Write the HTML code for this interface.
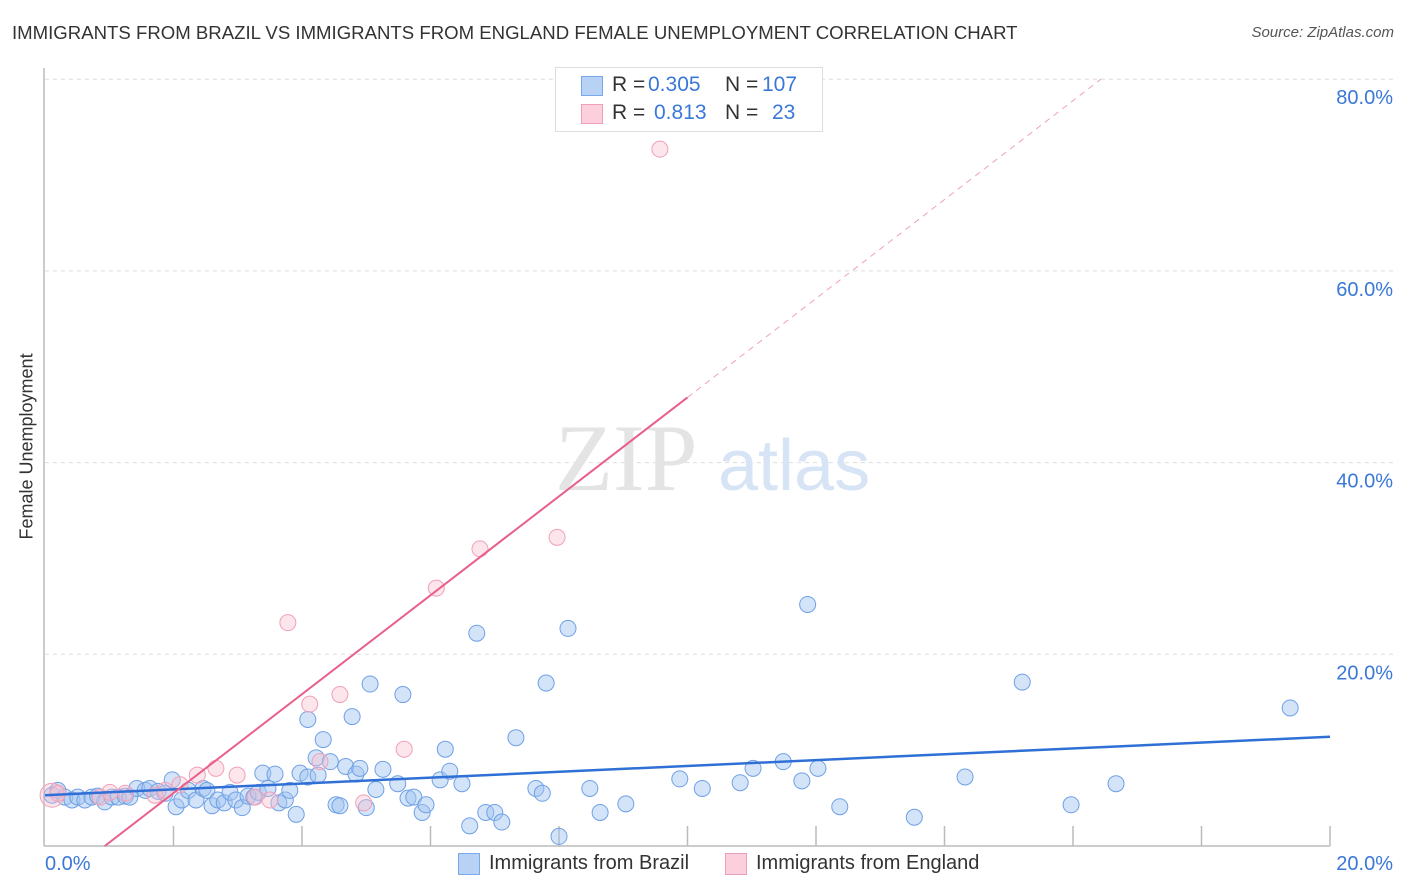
<!DOCTYPE html>
<html><head><meta charset="utf-8"><style>
body{margin:0;background:#fff;font-family:"Liberation Sans",sans-serif;}
#w{position:relative;width:1406px;height:892px;overflow:hidden;}
.t{position:absolute;white-space:nowrap;}
.b{color:#3a78d8}
</style></head><body><div id="w">
<div class="t" style="left:12px;top:22px;font-size:18.6px;color:#333;">IMMIGRANTS FROM BRAZIL VS IMMIGRANTS FROM ENGLAND FEMALE UNEMPLOYMENT CORRELATION CHART</div>
<div class="t" style="right:12px;top:24px;font-size:15px;color:#555;font-style:italic;">Source: ZipAtlas.com</div>
<div class="t" style="left:-58px;top:444px;width:170px;text-align:center;font-size:18px;color:#333;transform:rotate(-90deg);">Female Unemployment</div>
<svg id="s" width="1406" height="892" style="position:absolute;left:0;top:0"></svg>
<div style="position:absolute;left:555px;top:67px;width:266px;height:63px;border:1px solid #ddd;background:#fff;"></div>
<div style="position:absolute;left:581px;top:76px;width:20px;height:18px;background:#b8d2f5;border:1px solid #7aa8e8;"></div>
<div style="position:absolute;left:581px;top:104px;width:20px;height:18px;background:#fbd0dc;border:1px solid #f0a0b8;"></div>
<div style="position:absolute;left:0;top:73px;font-size:21px;color:#333;">
<span class="t" style="left:612px">R =</span><span class="t b" style="left:648px">0.305</span><span class="t" style="left:725px">N =</span><span class="t b" style="left:762px">107</span></div>
<div style="position:absolute;left:0;top:101px;font-size:21px;color:#333;">
<span class="t" style="left:612px">R =</span><span class="t b" style="left:654px">0.813</span><span class="t" style="left:725px">N =</span><span class="t b" style="left:772px">23</span></div>
<div style="position:absolute;left:458px;top:853px;width:20px;height:20px;background:#b8d2f5;border:1px solid #7aa8e8;"></div>
<div class="t" style="left:489px;top:852px;font-size:20px;color:#333;">Immigrants from Brazil</div>
<div style="position:absolute;left:725px;top:853px;width:20px;height:20px;background:#fbd0dc;border:1px solid #f0a0b8;"></div>
<div class="t" style="left:756px;top:852px;font-size:20px;color:#333;">Immigrants from England</div>
</div>
<script>
const yTicks=[20,40,60,80];
const yTickLabels=["20.0%","40.0%","60.0%","80.0%"];
const xTicks=[2,4,6,8,10,12,14,16,18,20];
const brazilX=[0.11,0.2,0.31,0.42,0.51,0.62,0.73,0.82,0.93,1.04,1.14,1.25,1.32,1.43,1.56,1.63,1.76,1.87,1.98,2.04,2.13,2.23,2.35,2.46,2.52,2.6,2.69,2.79,2.88,2.97,3.07,3.16,3.25,3.32,3.39,3.47,3.58,3.64,3.74,3.81,3.91,3.97,4.09,4.09,4.22,4.25,4.33,4.44,4.53,4.59,4.68,4.78,4.84,4.9,5.0,5.06,5.15,5.26,5.49,5.57,5.65,5.74,5.87,5.93,6.15,6.23,6.3,6.49,6.61,6.72,6.86,7.0,7.11,7.33,7.64,7.74,7.8,8.0,8.14,8.48,8.64,9.04,9.88,10.23,10.82,11.02,11.49,11.78,11.87,12.03,12.37,13.53,14.32,15.21,15.97,16.67,19.38];
const brazilY=[5.3,5.8,5.1,4.8,5.1,4.8,5.1,5.2,4.6,5.1,5.1,5.2,5.1,6.0,5.8,6.0,5.7,5.5,6.9,4.1,4.8,5.8,4.8,6.0,5.8,4.2,4.8,4.5,5.6,4.8,4.0,5.2,5.1,5.6,7.6,6.0,7.5,4.5,4.8,5.8,3.3,7.6,13.2,7.2,9.2,7.4,11.1,8.8,4.3,4.2,8.3,13.5,7.5,8.1,4.0,16.9,5.9,8.0,6.5,15.8,5.0,5.1,3.5,4.3,6.9,10.1,7.8,6.5,2.1,22.2,3.5,3.5,2.5,11.3,6.0,5.5,17.0,1.0,22.7,6.0,3.5,4.4,7.0,6.0,6.6,8.1,8.8,6.8,25.2,8.1,4.1,3.0,7.2,17.1,4.3,6.5,14.4];
const englandX=[0.11,0.2,0.86,1.01,1.25,1.71,1.87,2.1,2.37,2.66,2.99,3.27,3.5,3.78,4.12,4.28,4.59,4.96,5.59,6.09,6.77,7.97,9.57];
const englandY=[5.3,5.5,5.1,5.6,5.5,5.3,5.8,6.4,7.4,8.1,7.4,5.1,4.8,23.3,14.8,8.8,15.8,4.5,10.1,26.9,31.0,32.2,72.7];
const brazilTrend=[5.3,11.4];
const englandSlope=5.16, englandX0=0.93;
const X=v=>45+v*64.25, Y=v=>846-v*9.585;
const s=document.getElementById('s'),NS='http://www.w3.org/2000/svg';
function mk(t,a){const e=document.createElementNS(NS,t);for(const k in a)e.setAttribute(k,a[k]);s.appendChild(e);return e;}
yTicks.forEach((v,i)=>{
 let g=mk('line',{x1:45,x2:1395,y1:Y(v),y2:Y(v),stroke:'#ddd','stroke-dasharray':'4,4'});
 
 
 let t=mk('text',{x:1393,y:Y(v)+25,'text-anchor':'end','font-size':20,fill:'#3a78d8','font-family':'Liberation Sans, sans-serif'});
 t.textContent=yTickLabels[i];
 
 
});
let ax=mk('line',{x1:44,x2:44,y1:68,y2:846,stroke:'#bbb','stroke-width':1.5});


let bx=mk('line',{x1:44,x2:1330,y1:846,y2:846,stroke:'#bbb','stroke-width':1.5});


xTicks.forEach(v=>{let l=mk('line',{x1:X(v),x2:X(v),y1:826,y2:846,stroke:'#bbb','stroke-width':1.5});
 
 });
[[0,"0.0%",45,'start'],[20,"20.0%",1393,'end']].forEach(d=>{let t=mk('text',{x:d[2],y:870,'text-anchor':d[3],'font-size':20,fill:'#3a78d8','font-family':'Liberation Sans, sans-serif'});t.textContent=d[1];
 
 });
let wm=mk('text',{x:555,y:490,'font-size':95,fill:'#e4e4e4','font-family':'Liberation Serif, serif'});wm.textContent='ZIP';


let wm2=mk('text',{x:718,y:490,'font-size':72,fill:'#d6e4f6','font-family':'Liberation Sans, sans-serif'});wm2.textContent='atlas';


brazilX.forEach((x,i)=>{let c=mk('circle',{cx:X(x),cy:Y(brazilY[i]),r:8,fill:'rgba(160,195,240,0.45)',stroke:'#6fa0e6','stroke-width':1});
 
 });
englandX.forEach((x,i)=>{let c=mk('circle',{cx:X(x),cy:Y(englandY[i]),r:i==0?12:8,fill:'rgba(248,190,205,0.4)',stroke:'#f0a0b8','stroke-width':1});
 
 });
let bl=mk('line',{x1:X(0),y1:Y(brazilTrend[0]),x2:X(20),y2:Y(brazilTrend[1]),stroke:'#2f6fd6','stroke-width':2.5});


const ex1=10.0, ex2=englandX0+80/englandSlope;
let el=mk('line',{x1:X(englandX0),y1:Y(0),x2:X(ex1),y2:Y(englandSlope*(ex1-englandX0)),stroke:'#e8608a','stroke-width':2});


let ed=mk('line',{x1:X(ex1),y1:Y(englandSlope*(ex1-englandX0)),x2:X(ex2),y2:Y(80),stroke:'#f0a0b8','stroke-width':1,'stroke-dasharray':'6,5'});


</script></body></html>
